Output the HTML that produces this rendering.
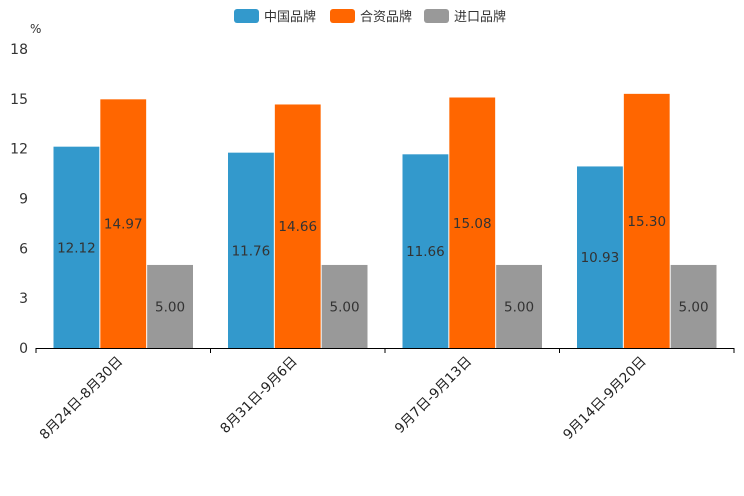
<!DOCTYPE html>
<html><head><meta charset="utf-8"><style>
body{margin:0;background:#fff;}
svg{display:block;font-family:"DejaVu Sans","Liberation Sans","Noto Sans CJK SC",sans-serif;}
</style></head><body>
<svg id="chart" width="744" height="496" viewBox="0 0 744 496"></svg>
<script>
const categories=["8月24日-8月30日","8月31日-9月6日","9月7日-9月13日","9月14日-9月20日"];
const seriesNames=["中国品牌","合资品牌","进口品牌"];
const domestic=[12.12,11.76,11.66,10.93];
const jointVenture=[14.97,14.66,15.08,15.30];
const imported=[5.00,5.00,5.00,5.00];
const yTicks=[0,3,6,9,12,15,18];
const colors=["#3399cc","#ff6600","#999999"];
const series=[domestic,jointVenture,imported];
const NS="http://www.w3.org/2000/svg";
const svg=document.getElementById('chart');
const x0=36,x1=734,yBase=348,yTop=49,yMax=18;
const band=(x1-x0)/categories.length;
const pad=17,bw=(band-2*pad)/3;
function yS(v){return yBase-(v/yMax)*(yBase-yTop);}
function xS(i,s){return x0+i*band+pad+s*bw;}
function mk(tag,attrs,parent){const e=document.createElementNS(NS,tag);for(const k in attrs)e.setAttribute(k,attrs[k]);(parent||svg).appendChild(e);return e;}
// unit
let u=mk('text',{x:30,y:33,'font-size':12,fill:'#333'});u.textContent='%';


// y ticks
yTicks.forEach(v=>{
  const t=mk('text',{x:28,y:yS(v)+5,'font-size':14,fill:'#333','text-anchor':'end'});
  t.textContent=v;
  
  
});
// bars
series.forEach((arr,s)=>{
  arr.forEach((v,i)=>{
    const r=mk('rect',{x:xS(i,s)+0.5,y:yS(v),width:bw-1,height:yBase-yS(v),fill:colors[s]});
    
    
    const t=mk('text',{x:xS(i,s)+bw/2,y:(yS(v)+yBase)/2+5,'font-size':13.5,fill:'#333','text-anchor':'middle'});
    t.textContent=v.toFixed(2);
    
    
  });
});
// x axis
const ax=mk('line',{x1:x0,x2:x1,y1:yBase+0.5,y2:yBase+0.5,stroke:'#000','stroke-width':1});


for(let i=0;i<=categories.length;i++){
  const tk=mk('line',{x1:x0+i*band,x2:x0+i*band,y1:yBase,y2:yBase+5,stroke:'#000'});
  
  
}
categories.forEach((c,i)=>{
  const cx=x0+i*band+band/2, cy=yBase+14;
  const t=mk('text',{x:cx,y:cy,'font-size':13.5,fill:'#222','text-anchor':'end',transform:`rotate(-45 ${cx} ${cy})`});
  t.textContent=c;
  
  
});
// legend
const lx=[234,330,424];
seriesNames.forEach((n,s)=>{
  const r=mk('rect',{x:lx[s],y:9,width:25,height:14,rx:3,fill:colors[s]});
  
  
  const t=mk('text',{x:lx[s]+30,y:21,'font-size':13,fill:'#333'});
  t.textContent=n;
  
  
});
</script>
</body></html>
